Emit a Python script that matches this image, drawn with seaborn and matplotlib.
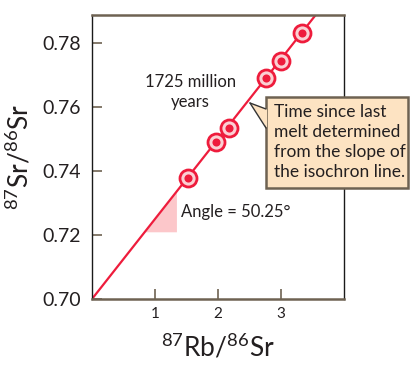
import numpy as np
import matplotlib
matplotlib.use("Agg")
import matplotlib.pyplot as plt
import seaborn as sns
from matplotlib.patches import Rectangle, Polygon

# isochron sample points
rb_sr = [1.53, 1.97, 2.18, 2.76, 3.00, 3.34]
sr_sr = [0.7377, 0.7492, 0.7535, 0.7691, 0.7745, 0.7832]

# fitted isochron line
intercept = 0.700
slope = 0.0250
line_x = [0.0, 3.6]

# shaded angle triangle
tri_x = [0.84, 1.34]
tri_base = 0.7210

x_ticks = [1, 2, 3]
y_ticks = [0.70, 0.72, 0.74, 0.76, 0.78]

RED = "#ee1c3c"
PINK = "#fcc7ca"
BOX_FACE = "#fde3c2"
BOX_EDGE = "#6e6252"
TEXT = "#231f20"

sns.set_style("white")
plt.rcParams["font.family"] = ["Lato", "DejaVu Sans"]
plt.rcParams["mathtext.fontset"] = "custom"
plt.rcParams["mathtext.rm"] = "Lato"

W, H = 419, 375
fig = plt.figure(figsize=(W / 100, H / 100), dpi=100)
ax = fig.add_axes([92 / W, 1 - 299 / H, 252 / W, 284 / H])


def px(x, y):
    return (x / W, 1 - y / H)


# line
lx = np.array(line_x)
sns.lineplot(x=lx, y=intercept + slope * lx, color=RED, linewidth=1.6, ax=ax, zorder=2)

# triangle
tx = np.linspace(tri_x[0], tri_x[1], 20)
ax.fill_between(tx, tri_base, intercept + slope * tx, color=PINK, linewidth=0, zorder=1)

# points: ring + dot
sns.scatterplot(x=rb_sr, y=sr_sr, s=150, facecolor="#fbd0d3", edgecolor=RED,
                linewidth=2.0, ax=ax, zorder=3)
sns.scatterplot(x=rb_sr, y=sr_sr, s=34, color=RED, edgecolor=RED, linewidth=0, ax=ax, zorder=4)

ax.set_xlim(0, 4)
ax.set_ylim(0.70, 0.78875)
ax.set_xticks(x_ticks)
ax.set_yticks(y_ticks)
ax.set_xticklabels([str(t) for t in x_ticks], fontsize=11, color=TEXT)
ax.set_yticklabels([f"{t:.2f}" for t in y_ticks], fontsize=14, color=TEXT)
ax.tick_params(axis="both", direction="in", length=7, width=1.2, color=BOX_EDGE,
               bottom=True, left=True)
ax.tick_params(axis="x", pad=6)
ax.tick_params(axis="y", pad=8)
for side in ["top", "bottom"]:
    ax.spines[side].set_color(BOX_EDGE)
    ax.spines[side].set_linewidth(1.8)
for side in ["left", "right"]:
    ax.spines[side].set_color("#1a1a1a")
    ax.spines[side].set_linewidth(1.0)

ax.set_xlabel(r"$^{87}$Rb/$^{86}$Sr", fontsize=19, color=TEXT, labelpad=8)
ax.set_ylabel(r"$^{87}$Sr/$^{86}$Sr", fontsize=19, color=TEXT, labelpad=6)

ax.text(1.56, 0.7647, "1725 million\nyears", ha="center", va="center",
        fontsize=12, color=TEXT, linespacing=1.35)
ax.text(1.42, 0.7273, "Angle = 50.25°", ha="left", va="center",
        fontsize=12, color=TEXT)

# callout box
bx0, by0, bx1, by1 = 266, 97, 408, 188
rect = Rectangle(px(bx0, by1), (bx1 - bx0) / W, (by1 - by0) / H,
                 transform=fig.transFigure, facecolor=BOX_FACE,
                 edgecolor=BOX_EDGE, linewidth=1.8, zorder=5)
fig.patches.append(rect)
tip = (250, 103)
wedge = Polygon([px(*tip), px(267, 109), px(267, 128)], closed=True,
                transform=fig.transFigure, facecolor=BOX_FACE,
                edgecolor="none", zorder=6)
fig.patches.append(wedge)
for end in [(266, 109), (266, 128)]:
    fig.lines.append(plt.Line2D([px(*tip)[0], px(*end)[0]], [px(*tip)[1], px(*end)[1]],
                                transform=fig.transFigure, color="#333333",
                                linewidth=1.0, zorder=7))
fig.text(*px(274, 142), "Time since last\nmelt determined\nfrom the slope of\nthe isochron line.",
         ha="left", va="center", fontsize=12.5, color=TEXT, linespacing=1.3, zorder=8)

fig.savefig("out.png", dpi=100)
